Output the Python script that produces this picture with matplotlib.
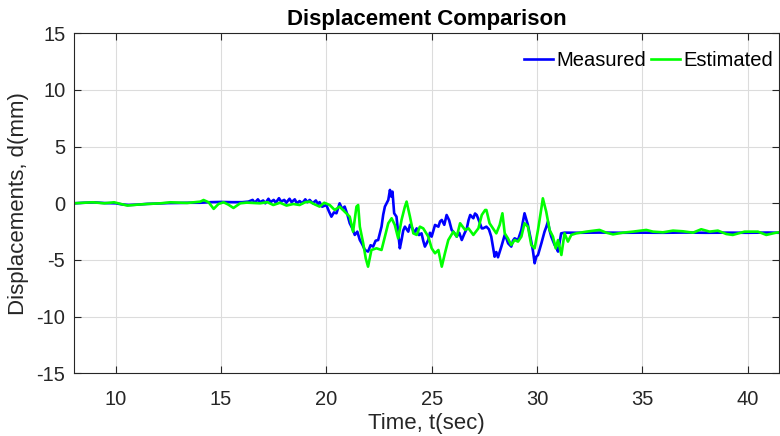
import matplotlib
matplotlib.use("Agg")
import matplotlib.pyplot as plt

plt.rcParams['font.family'] = ['Liberation Sans', 'DejaVu Sans']
plt.rcParams['axes.unicode_minus'] = False

# Measured displacement (blue)
meas_t = [8.0, 8.5, 9.0, 9.5, 10.0, 10.3, 10.6, 11.0, 11.5, 12.0, 12.5, 13.0, 13.5, 14.0,
          14.5, 15.0, 15.5, 16.0, 16.3, 16.5, 16.6, 16.75, 16.85, 17.0, 17.1, 17.25, 17.35,
          17.5, 17.6, 17.75, 17.85, 18.0, 18.1, 18.25, 18.35, 18.5, 18.6, 18.73, 18.85, 19.0,
          19.1, 19.21, 19.35, 19.5, 19.6, 19.68, 19.8, 20.0, 20.12, 20.24, 20.36, 20.48, 20.63,
          20.75, 20.87, 21.0, 21.11, 21.23, 21.35, 21.47, 21.59, 21.7, 21.83, 21.98, 22.1, 22.22,
          22.34, 22.46, 22.62, 22.7, 22.78, 22.94, 23.02, 23.08, 23.14,
          23.22, 23.33, 23.41, 23.49, 23.57, 23.65, 23.73, 23.89, 23.97, 24.05, 24.17, 24.29,
          24.4, 24.52, 24.6, 24.68, 24.84, 24.92, 25.0,
          25.16, 25.32, 25.4, 25.48, 25.6, 25.71, 25.83, 25.95, 26.07, 26.19, 26.31, 26.43,
          26.55, 26.67, 26.75, 26.83, 26.98, 27.06, 27.14, 27.26, 27.38,
          27.44, 27.6, 27.72, 27.83, 27.99, 28.07, 28.15, 28.31, 28.47, 28.55, 28.63, 28.78,
          28.86, 28.94, 29.1, 29.18, 29.26,
          29.41, 29.49, 29.57, 29.73, 29.81, 29.89, 29.97, 30.05, 30.21, 30.36, 30.44, 30.52,
          30.6, 30.68, 30.84, 30.92, 31.0, 31.08, 31.15,
          31.31, 32.0, 33.0, 34.0, 35.0, 36.0, 37.0, 38.0, 39.0, 40.0, 41.0, 41.5]
meas_d = [0.0, 0.05, 0.08, 0.02, 0.0, -0.1, -0.15, -0.12, -0.05, -0.02, 0.02, 0.03, 0.05, 0.05,
          0.1, 0.12, 0.1, 0.1, 0.15, 0.3, 0.05, 0.35, 0.1, 0.25, 0.0, 0.4, 0.1,
          0.3, 0.05, 0.45, 0.15, 0.3, 0.05, 0.4, 0.1, 0.35, 0.0, 0.2, 0.0, 0.35,
          0.1, 0.3, 0.0, 0.25, -0.05, 0.1, -0.3, -0.15, -0.7, -1.18, -0.8, -0.88, 0.0,
          -0.5, -0.29, -1.0, -1.76, -2.2, -2.79, -2.5, -3.24, -3.6, -4.12, -4.26, -3.7, -3.82,
          -3.3, -3.24, -2.06, -1.0, -0.29, 0.29, 1.18, 0.6, 1.03,
          -0.88, -1.18, -2.6, -3.97, -3.24, -2.4, -2.06, -2.5, -1.9, -2.06, -2.6, -2.21,
          -2.8, -2.65, -3.3, -3.82, -3.24, -2.6, -2.94,
          -1.91, -2.06, -1.6, -1.47, -1.9, -1.03, -1.5, -2.35, -2.6, -2.94, -2.6, -3.24,
          -2.7, -2.21, -1.5, -1.03, -1.32, -0.9, -1.03, -1.6, -2.21,
          -2.21, -2.06, -2.3, -2.94, -4.71, -4.3, -4.76, -3.82, -2.79, -3.1, -3.53, -3.82,
          -3.3, -3.09, -3.24, -2.8, -2.35,
          -0.88, -1.4, -1.91, -3.38, -4.2, -5.29, -4.7, -4.56, -3.53, -2.5, -2.1, -1.62,
          -2.4, -2.94, -3.68, -3.9, -4.26, -3.4, -2.65,
          -2.59, -2.6, -2.58, -2.6, -2.59, -2.6, -2.58, -2.6, -2.59, -2.6, -2.58, -2.6]

# Estimated displacement (green)
est_t = [8.0, 8.9, 9.45, 9.92, 10.55, 11.02, 11.5, 12.13, 12.6, 13.39, 14.02, 14.17, 14.41,
         14.65, 14.88, 15.12, 15.35, 15.59, 15.91, 16.22, 16.85, 17.2, 17.48, 17.8, 18.11,
         18.43, 18.73, 19.0, 19.21, 19.45, 19.68, 19.9, 20.16, 20.4, 20.63, 20.87, 21.11,
         21.27, 21.43, 21.51, 21.59, 21.75, 21.87, 21.98, 22.14, 22.38, 22.62, 22.78, 22.94,
         23.1, 23.25, 23.41, 23.57, 23.73, 23.81, 23.97, 24.13, 24.29, 24.44, 24.6, 24.84,
         25.0, 25.16, 25.32, 25.48, 25.63, 25.79, 26.03, 26.19, 26.35, 26.59, 26.75, 26.98,
         27.22, 27.38, 27.54, 27.6, 27.75, 27.91, 28.07, 28.23, 28.36, 28.47, 28.62, 28.78,
         28.94, 29.1, 29.26, 29.41, 29.57, 29.73, 29.89, 30.05, 30.21, 30.28, 30.44, 30.6,
         30.76, 30.89, 31.0, 31.16, 31.31, 31.47, 31.63, 31.87, 32.34, 32.97, 33.29, 33.61,
         34.08, 34.56, 35.19, 35.51, 35.98, 36.46, 36.93, 37.41, 37.8, 38.2, 38.59, 38.99,
         39.3, 39.86, 40.49, 40.89, 41.36, 41.5]
est_d = [0.0, 0.09, 0.0, 0.09, -0.2, -0.12, -0.06, 0.0, 0.09, 0.03, 0.15, 0.29, 0.09,
         -0.49, -0.06, 0.09, -0.12, -0.41, 0.0, 0.06, 0.0, 0.1, -0.15, 0.05, -0.2,
         -0.06, -0.15, 0.1, 0.15, -0.1, -0.29, 0.05, -0.15, -0.59, -0.29, -0.74, -1.18,
         -2.5, -0.29, -0.15, -2.06, -3.53, -4.85, -5.59, -4.12, -3.97, -4.12, -2.94, -1.76,
         -1.32, -1.91, -3.09, -1.47, -0.29, 0.15, -1.18, -2.65, -2.79, -2.06, -2.21, -2.94,
         -3.97, -4.41, -4.12, -5.59, -4.41, -3.24, -2.5, -2.94, -1.76, -2.35, -2.21, -2.79,
         -2.21, -1.03, -0.59, -0.59, -1.76, -2.21, -2.65, -1.91, -0.88, -2.65, -3.09, -3.68,
         -3.24, -3.38, -2.94, -1.76, -2.06, -3.68, -3.97, -2.35, -0.44, 0.44, -0.74, -2.35,
         -2.94, -3.97, -3.24, -4.56, -2.65, -3.38, -2.79, -2.65, -2.5, -2.35, -2.59, -2.74,
         -2.59, -2.5, -2.35, -2.5, -2.56, -2.41, -2.47, -2.59, -2.29, -2.5, -2.41, -2.71,
         -2.79, -2.5, -2.5, -2.79, -2.59, -2.56]

x_ticks = [10, 15, 20, 25, 30, 35, 40]
y_ticks = [-15, -10, -5, 0, 5, 10, 15]

fig = plt.figure(figsize=(7.8, 4.36), dpi=100)
ax = fig.add_axes([0.0944, 0.1438, 0.9045, 0.7798])

ax.plot(meas_t, meas_d, color='#0000FF', lw=1.9, label='Measured')
ax.plot(est_t, est_d, color='#00FF00', lw=1.9, label='Estimated')

ax.set_xlim(8, 41.5)
ax.set_ylim(-15, 15)
ax.set_xticks(x_ticks)
ax.set_yticks(y_ticks)
ax.grid(True, color='#dcdcdc', lw=0.8)
ax.set_axisbelow(True)
ax.tick_params(direction='in', top=True, right=True, labelsize=14.5, colors='#262626',
               length=5, width=0.8)
ax.tick_params(axis='x', pad=12)
ax.tick_params(axis='y', pad=6)
for s in ax.spines.values():
    s.set_color('#262626')
    s.set_linewidth(0.8)

ax.set_title('Displacement Comparison', fontsize=16, fontweight='bold', pad=6)
ax.set_xlabel('Time, t(sec)', fontsize=16, color='#262626', labelpad=3)
ax.set_ylabel('Displacements, d(mm)', fontsize=16, color='#262626', labelpad=5)

ax.legend(loc='upper right', ncol=2, frameon=False, fontsize=14.5, handlelength=1.45,
          handletextpad=0.15, columnspacing=0.25, borderaxespad=0.0, borderpad=0.3,
          bbox_to_anchor=(1.0, 0.965))

fig.savefig('out.png', dpi=100)
